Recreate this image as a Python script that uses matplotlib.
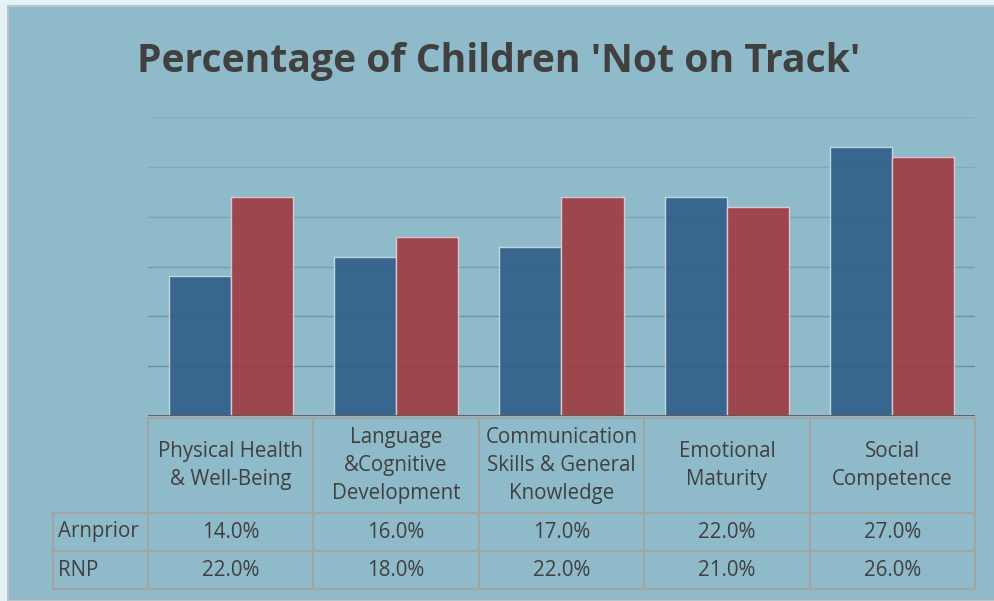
import matplotlib
matplotlib.use('Agg')
import matplotlib.pyplot as plt
from matplotlib.patches import Rectangle
import matplotlib.transforms as mtransforms
import numpy as np

# ── data ─────────────────────────────────────────────────────────────────
categories = ['Physical Health\n& Well-Being', 'Language\n&Cognitive\nDevelopment',
              'Communication\nSkills & General\nKnowledge', 'Emotional\nMaturity',
              'Social\nCompetence']
series_names = ['Arnprior', 'RNP']
arnprior = [14.0, 16.0, 17.0, 22.0, 27.0]
rnp = [22.0, 18.0, 22.0, 21.0, 26.0]
yticks = [0, 5, 10, 15, 20, 25, 30]

plt.rcParams['font.family'] = ['Open Sans', 'DejaVu Sans']

W, H = 995, 601
fig = plt.figure(figsize=(W / 100, H / 100), dpi=100)
fig.patch.set_facecolor('#e4f1f7')

bg = '#8fbac9'
text_c = '#404040'
frame = Rectangle((8 / W, 0), 1, 1 - 6 / H, transform=fig.transFigure,
                  facecolor=bg, edgecolor='#b8c4c8', linewidth=1.5, zorder=-10)
fig.patches.append(frame)

ax = fig.add_axes([148 / W, (H - 416) / H, (975 - 148) / W, (416 - 117) / H])
ax.set_facecolor('none')

x = np.arange(len(categories))
bw = 0.375
ax.bar(x - bw / 2, arnprior, bw, color='#2f5d88', alpha=0.9,
       edgecolor='#c8dde6', linewidth=1, zorder=3)
ax.bar(x + bw / 2, rnp, bw, color='#9e3a40', alpha=0.9,
       edgecolor='#e0d0d4', linewidth=1, zorder=3)

# horizontal gridlines, darker toward the bottom
for i, t in enumerate(yticks[1:]):
    a = 0.7 - 0.11 * i
    ax.axhline(t, color='#5f7c86', linewidth=1, alpha=a, zorder=2)
ax.axhline(0, color='#5a5a5a', linewidth=2, zorder=4)

ax.set_xlim(-0.5, len(categories) - 0.5)
ax.set_ylim(0, 30)
ax.set_xticks([])
ax.set_yticks([])
for s in ax.spines.values():
    s.set_visible(False)

fig.text(499 / W, 1 - 72 / H, "Percentage of Children 'Not on Track'",
         ha='center', va='baseline', fontsize=28.2, fontweight='bold', color=text_c)

# ── data table under the chart ───────────────────────────────────────────
trans = mtransforms.blended_transform_factory(ax.transData, ax.transAxes)
ah = 416 - 117
y_head_top = -2 / ah
y_head_bot = -97 / ah
y_r1 = -135 / ah
y_r2 = -173 / ah
x_label_left = -0.5 - 95 / 165.4
grid_c = '#a3a3a3'
lw = 1.5
fs = 14.8

# horizontal lines
ax.plot([-0.5, 4.5], [y_head_top, y_head_top], transform=trans, color=grid_c,
        lw=lw, clip_on=False)
for yy in [y_head_bot, y_r1, y_r2]:
    ax.plot([x_label_left, 4.5], [yy, yy], transform=trans, color=grid_c,
            lw=lw, clip_on=False)
# vertical lines
for xx in np.arange(-0.5, 5.0, 1.0):
    ax.plot([xx, xx], [y_head_top, y_r2], transform=trans, color=grid_c,
            lw=lw, clip_on=False)
ax.plot([x_label_left, x_label_left], [y_head_bot, y_r2], transform=trans,
        color=grid_c, lw=lw, clip_on=False)

for i, c in enumerate(categories):
    ax.text(i, (y_head_top + y_head_bot) / 2, c, transform=trans, ha='center',
            va='center', fontsize=fs, color=text_c, linespacing=1.42)
    ax.text(i, (y_head_bot + y_r1) / 2, f'{arnprior[i]:.1f}%', transform=trans,
            ha='center', va='center', fontsize=fs, color=text_c)
    ax.text(i, (y_r1 + y_r2) / 2, f'{rnp[i]:.1f}%', transform=trans,
            ha='center', va='center', fontsize=fs, color=text_c)

for name, yc in zip(series_names, [(y_head_bot + y_r1) / 2, (y_r1 + y_r2) / 2]):
    ax.text(x_label_left + 0.03, yc, name, transform=trans, ha='left',
            va='center', fontsize=fs, color=text_c)

plt.savefig('out.png', dpi=100, facecolor=fig.get_facecolor())
plt.close()
